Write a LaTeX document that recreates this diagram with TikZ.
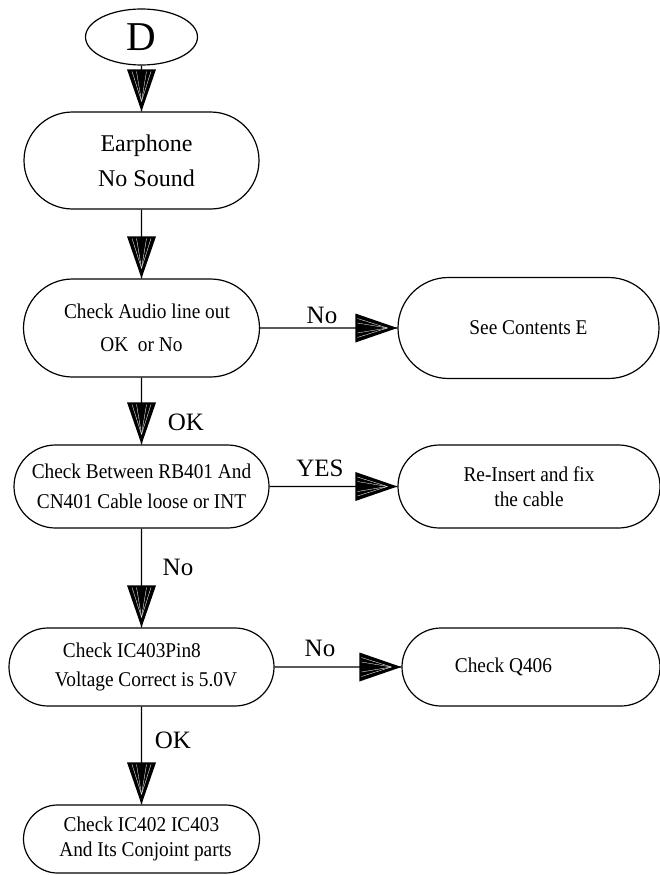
\documentclass[tikz,border=0pt]{standalone}
\usepackage{fontspec}
\setmainfont{Liberation Serif}
\newfontfamily\narrowserif[FakeStretch=0.92]{Liberation Serif}
\usetikzlibrary{shapes.geometric,shapes.misc,decorations.markings}

% striped triangular arrow head, drawn in the frame of the path end
\newcommand\hatchhead{%
  \fill[black] (0pt,0pt) -- (-42pt,14.5pt) -- (-42pt,-14.5pt) -- cycle;
  \foreach \k in {-9.5,-5,5,9.5} {\draw[white,line width=0.35pt] (-40pt,\k pt) -- (-10pt,0pt);}%
}

\begin{document}
\begin{tikzpicture}[x=1pt,y=-1pt,
  stadium/.style={rounded rectangle, draw, line width=1.2pt, inner sep=0pt, align=center},
  boxfont/.style={font=\narrowserif\fontsize{21}{#1}\selectfont},
  lbl/.style={font=\fontsize{25}{25}\selectfont, inner sep=0pt},
  flow/.style={line width=1.3pt, postaction={decorate},
    decoration={markings, mark=at position 1 with {\hatchhead}}},
]
\useasboundingbox (0,0) rectangle (659,875);

% main column
\node[ellipse, draw, line width=1.2pt, inner sep=0pt, minimum width=112, minimum height=56,
      font=\fontsize{41}{41}\selectfont] (D) at (141.5,37) {D};
\node[stadium, minimum width=235, minimum height=97, font=\fontsize{24}{35}\selectfont]
  (ear) at (141.5,160.5) {\hspace*{10pt}Earphone\\\hspace*{10pt}No Sound};
\node[stadium, minimum width=236, minimum height=98, boxfont=33]
  (audio) at (141.5,328) {\hspace*{11pt}Check Audio line out\\OK\ \ or No};
\node[stadium, minimum width=255, minimum height=83, boxfont=30]
  (between) at (141.5,486.5) {Check Between RB401 And\\CN401 Cable loose or INT};
\node[stadium, minimum width=265, minimum height=78, boxfont=29, align=left]
  (ic403) at (141.5,667) {\hspace*{17pt}Check IC403Pin8\\\hspace*{9pt}Voltage Correct is 5.0V};
\node[stadium, minimum width=236, minimum height=68, boxfont=25]
  (parts) at (141.5,839) {Check IC402 IC403\\\hspace*{8pt}And Its Conjoint parts};

% right column
\node[stadium, minimum width=261, minimum height=101, boxfont=25]
  (seeE) at (528.5,328) {See Contents E};
\node[stadium, minimum width=262, minimum height=83, boxfont=25]
  (reinsert) at (529,486.5) {Re-Insert and fix\\the cable};
\node[stadium, minimum width=258, minimum height=78, boxfont=25]
  (q406) at (531,667) {Check Q406\hspace*{55pt}};

% connectors
\draw[flow] (D) -- (ear);
\draw[flow] (ear) -- (audio);
\draw[flow] (audio) -- (between);
\draw[flow] (between) -- (ic403);
\draw[flow] (ic403) -- (parts);
\draw[flow] (audio) -- (seeE);
\draw[flow] (between) -- (reinsert);
\draw[flow] (ic403) -- (q406);

% connector labels
\node[lbl] (l1) at (322,315) {No};
\node[lbl] (l2) at (186,422) {OK};
\node[lbl] (l3) at (320,468) {YES};
\node[lbl] (l4) at (178,567) {No};
\node[lbl] (l5) at (320,648) {No};
\node[lbl] (l6) at (173,740) {OK};
\end{tikzpicture}
\end{document}
